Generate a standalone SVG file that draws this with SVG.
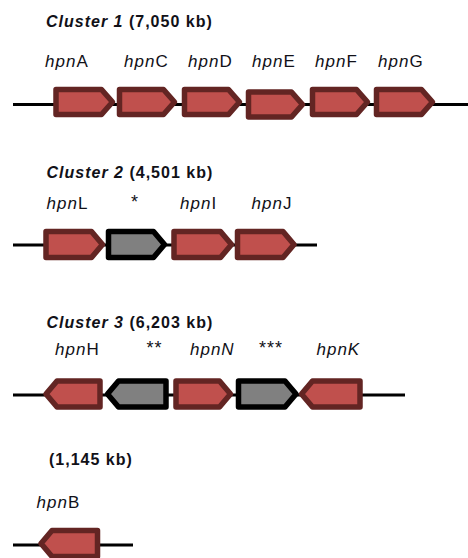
<svg xmlns="http://www.w3.org/2000/svg" width="468" height="558" viewBox="0 0 468 558">
  <style>
    text { font-family: "Liberation Sans", Arial, sans-serif; fill: #111118; }
    .title { font-size: 16px; font-weight: bold; letter-spacing: 1px; }
    .title .it { font-style: italic; }
    .lbl { font-size: 17px; letter-spacing: 1px; }
    .lbl .it { font-style: italic; }
    .star { font-size: 18px; text-anchor: middle; letter-spacing: 1px; }
    .dna { stroke: #000; stroke-width: 3; fill: none; }
    .hpn { fill: #c0504d; stroke: #632523; stroke-width: 5.5; stroke-linejoin: round; }
    .other { fill: #808080; stroke: #000; stroke-width: 5.5; stroke-linejoin: round; }
  </style>

  <!-- backbone lines -->
  <g id="connectors">
    <line class="dna" x1="13" y1="104.5" x2="468" y2="104.5"/>
    <line class="dna" x1="13" y1="245" x2="317" y2="245"/>
    <line class="dna" x1="13" y1="395" x2="405" y2="395"/>
    <line class="dna" x1="13" y1="545" x2="133" y2="545"/>
  </g>

  <!-- Cluster 1 -->
  <g id="cluster1">
    <text class="title" x="46" y="27"><tspan class="it">Cluster 1</tspan> (7,050 kb)</text>
    <g id="hpnA">
      <text class="lbl" x="45" y="66.5"><tspan class="it">hpn</tspan>A</text>
      <path class="hpn" d="M56,89.5 H101.5 L112.5,102 L101.5,114.5 H56 Z"/>
    </g>
    <g id="hpnC">
      <text class="lbl" x="124" y="66.5"><tspan class="it">hpn</tspan>C</text>
      <path class="hpn" d="M119.5,89.5 H163.5 L174.5,102 L163.5,114.5 H119.5 Z"/>
    </g>
    <g id="hpnD">
      <text class="lbl" x="188" y="66.5"><tspan class="it">hpn</tspan>D</text>
      <path class="hpn" d="M184.5,89.5 H228.5 L239.5,102 L228.5,114.5 H184.5 Z"/>
    </g>
    <g id="hpnE">
      <text class="lbl" x="252" y="66.5"><tspan class="it">hpn</tspan>E</text>
      <path class="hpn" d="M248.5,92 H291.5 L302.5,104.5 L291.5,117 H248.5 Z"/>
    </g>
    <g id="hpnF">
      <text class="lbl" x="315" y="66.5"><tspan class="it">hpn</tspan>F</text>
      <path class="hpn" d="M312.5,89.5 H356.5 L367.5,102 L356.5,114.5 H312.5 Z"/>
    </g>
    <g id="hpnG">
      <text class="lbl" x="378" y="66.5"><tspan class="it">hpn</tspan>G</text>
      <path class="hpn" d="M376.5,89.5 H421.5 L432.5,102 L421.5,114.5 H376.5 Z"/>
    </g>
  </g>

  <!-- Cluster 2 -->
  <g id="cluster2">
    <text class="title" x="46.5" y="178"><tspan class="it">Cluster 2</tspan> (4,501 kb)</text>
    <g id="hpnL">
      <text class="lbl" x="46.5" y="209"><tspan class="it">hpn</tspan>L</text>
      <path class="hpn" d="M46,231.5 H91.5 L102.5,244.5 L91.5,257.5 H46 Z"/>
    </g>
    <g id="gene-star1">
      <text class="star" x="135" y="208">*</text>
      <path class="other" d="M108.5,231.5 H153.5 L164.5,244.5 L153.5,257.5 H108.5 Z"/>
    </g>
    <g id="hpnI">
      <text class="lbl" x="180" y="209"><tspan class="it">hpn</tspan>I</text>
      <path class="hpn" d="M174,231.5 H220.5 L231.5,244.5 L220.5,257.5 H174 Z"/>
    </g>
    <g id="hpnJ">
      <text class="lbl" x="251.5" y="209"><tspan class="it">hpn</tspan>J</text>
      <path class="hpn" d="M237.5,231.5 H283 L294,244.5 L283,257.5 H237.5 Z"/>
    </g>
  </g>

  <!-- Cluster 3 -->
  <g id="cluster3">
    <text class="title" x="46.5" y="327.5"><tspan class="it">Cluster 3</tspan> (6,203 kb)</text>
    <g id="hpnH">
      <text class="lbl" x="55" y="355"><tspan class="it">hpn</tspan>H</text>
      <path class="hpn" d="M100,381 H57 L46,394 L57,407 H100 Z"/>
    </g>
    <g id="gene-star2">
      <text class="star" x="154.5" y="354">**</text>
      <path class="other" d="M166,381 H118.5 L107.5,394 L118.5,407 H166 Z"/>
    </g>
    <g id="hpnN">
      <text class="lbl" x="190" y="355" font-style="italic">hpnN</text>
      <path class="hpn" d="M176,381 H219.5 L230.5,394 L219.5,407 H176 Z"/>
    </g>
    <g id="gene-star3">
      <text class="star" x="271" y="354">***</text>
      <path class="other" d="M238.5,381 H285 L296,394 L285,407 H238.5 Z"/>
    </g>
    <g id="hpnK">
      <text class="lbl" x="316.5" y="355" font-style="italic">hpnK</text>
      <path class="hpn" d="M360,381 H312.5 L301.5,394 L312.5,407 H360 Z"/>
    </g>
  </g>

  <!-- Cluster 4 -->
  <g id="cluster4">
    <text class="title" x="49" y="465">(1,145 kb)</text>
    <g id="hpnB">
      <text class="lbl" x="36.5" y="508"><tspan class="it">hpn</tspan>B</text>
      <path class="hpn" d="M97.5,530.5 H52 L41,543.5 L52,556.5 H97.5 Z"/>
    </g>
  </g>
</svg>
